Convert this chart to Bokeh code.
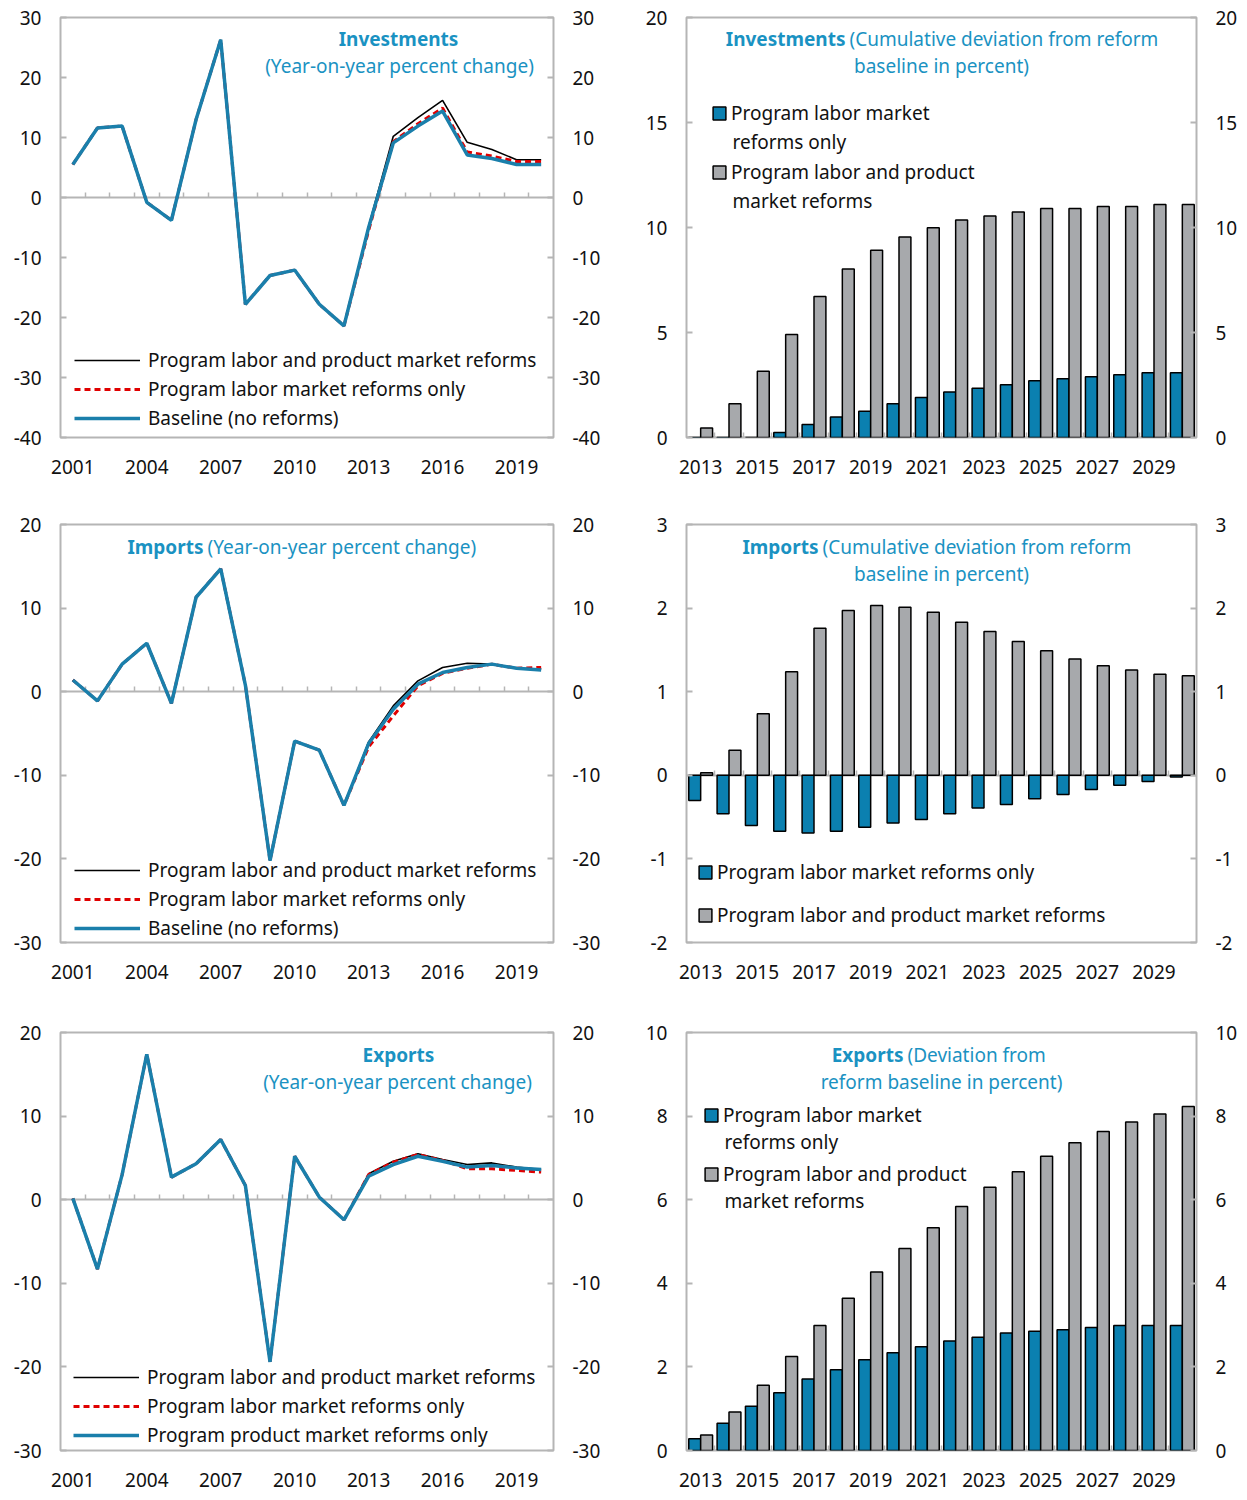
from bokeh.plotting import figure
from bokeh.models import (Range1d, FixedTicker, LinearAxis, Legend, LegendItem,
                          Label, ColumnDataSource, CustomJSTickFormatter)
from bokeh.layouts import row, column
from bokeh.transform import dodge
from bokeh.embed import file_html
from bokeh.resources import INLINE

# ---------------- data ----------------
years_line = list(range(2001, 2021))
years_bar = list(range(2013, 2031))
line_labels = [2001, 2004, 2007, 2010, 2013, 2016, 2019]
bar_labels = [2013, 2015, 2017, 2019, 2021, 2023, 2025, 2027, 2029]

inv_both = [5.5, 11.6, 11.9, -0.8, -3.8, 13.0, 26.3, -17.8, -13.0, -12.1, -17.8, -21.4, -4.8, 10.2, 13.3, 16.2, 9.2, 8.0, 6.3, 6.3]
inv_labor = [5.5, 11.6, 11.9, -0.8, -3.8, 13.0, 26.3, -17.8, -13.0, -12.1, -17.8, -21.4, -5.5, 9.3, 12.3, 14.9, 7.6, 6.9, 6.0, 6.0]
inv_base = [5.5, 11.6, 11.9, -0.8, -3.8, 13.0, 26.3, -17.8, -13.0, -12.1, -17.8, -21.4, -5.0, 9.1, 11.9, 14.4, 7.1, 6.5, 5.5, 5.5]

imp_both = [1.4, -1.1, 3.3, 5.8, -1.4, 11.3, 14.7, 0.8, -20.2, -5.9, -7.0, -13.6, -6.0, -1.7, 1.3, 2.9, 3.4, 3.3, 2.8, 2.7]
imp_labor = [1.4, -1.1, 3.3, 5.8, -1.4, 11.3, 14.7, 0.8, -20.2, -5.9, -7.0, -13.6, -6.6, -2.9, 0.7, 2.2, 2.8, 3.3, 2.8, 2.9]
imp_base = [1.4, -1.1, 3.3, 5.8, -1.4, 11.3, 14.7, 0.8, -20.2, -5.9, -7.0, -13.6, -6.2, -2.1, 0.9, 2.3, 2.9, 3.3, 2.8, 2.6]

exp_both = [0.15, -8.3, 3.0, 17.4, 2.7, 4.3, 7.2, 1.7, -19.4, 5.2, 0.3, -2.4, 3.1, 4.6, 5.5, 4.8, 4.2, 4.4, 3.9, 3.6]
exp_labor = [0.15, -8.3, 3.0, 17.4, 2.7, 4.3, 7.2, 1.7, -19.4, 5.2, 0.3, -2.4, 3.0, 4.5, 5.4, 4.7, 3.7, 3.7, 3.5, 3.3]
exp_product = [0.15, -8.3, 3.0, 17.4, 2.7, 4.3, 7.2, 1.7, -19.4, 5.2, 0.3, -2.4, 2.8, 4.2, 5.2, 4.6, 3.9, 4.1, 3.8, 3.6]

inv_cum_labor = [-0.05, -0.05, 0.0, 0.24, 0.62, 0.98, 1.25, 1.61, 1.90, 2.17, 2.34, 2.51, 2.70, 2.80, 2.89, 2.99, 3.08, 3.08]
inv_cum_both = [0.45, 1.61, 3.16, 4.90, 6.72, 8.02, 8.92, 9.55, 9.99, 10.36, 10.55, 10.74, 10.91, 10.91, 11.0, 11.0, 11.1, 11.1]

imp_cum_labor = [-0.30, -0.46, -0.60, -0.67, -0.69, -0.67, -0.62, -0.57, -0.53, -0.46, -0.39, -0.35, -0.28, -0.23, -0.17, -0.12, -0.075, -0.02]
imp_cum_both = [0.03, 0.30, 0.735, 1.24, 1.76, 1.97, 2.03, 2.01, 1.95, 1.83, 1.72, 1.60, 1.49, 1.39, 1.31, 1.26, 1.21, 1.19]

exp_dev_labor = [0.28, 0.65, 1.06, 1.38, 1.71, 1.93, 2.17, 2.34, 2.48, 2.62, 2.71, 2.81, 2.85, 2.89, 2.94, 2.99, 2.99, 2.99]
exp_dev_both = [0.37, 0.92, 1.56, 2.25, 2.99, 3.64, 4.27, 4.83, 5.33, 5.84, 6.30, 6.67, 7.04, 7.36, 7.63, 7.86, 8.05, 8.23]

LBL_BOTH = "Program labor and product market reforms"
LBL_LABOR = "Program labor market reforms only"
LBL_BASE = "Baseline (no reforms)"
LBL_PRODUCT = "Program product market reforms only"

# ---------------- style ----------------
FONT = "Noto Sans"
FS = "19px"
TXT = "#111111"
FRAME = "#b5b5b5"
BLUE_LINE = "#1a7fab"
RED = "#e00000"
BAR_BLUE = "#0b80b0"
BAR_GRAY = "#a7a9ac"
TITLE = "#1a92c2"


def style_axis(ax, ticker, standoff):
    ax.ticker = ticker
    ax.formatter = CustomJSTickFormatter(code="return tick.toString()")
    ax.major_tick_in = 6
    ax.major_tick_out = 0
    ax.minor_tick_line_color = None
    ax.major_tick_line_color = FRAME
    ax.major_tick_line_width = 2
    ax.axis_line_color = None
    ax.major_label_standoff = standoff
    ax.major_label_text_font = FONT
    ax.major_label_text_font_size = FS
    ax.major_label_text_color = TXT


def make_fig(years, ylo, yhi, ystep, label_years, fw, fh, bl, br, bt, bb):
    p = figure(frame_width=fw, frame_height=fh,
               min_border_left=bl, min_border_right=br,
               min_border_top=bt, min_border_bottom=bb,
               x_range=Range1d(years[0] - 0.5, years[-1] + 0.5),
               y_range=Range1d(ylo, yhi),
               output_backend="svg", toolbar_location=None)
    p.grid.visible = False
    p.outline_line_color = FRAME
    p.outline_line_width = 2
    yt = FixedTicker(ticks=list(range(ylo, yhi + 1, ystep)), minor_ticks=[])
    style_axis(p.yaxis[0], yt, 19)
    rax = LinearAxis()
    style_axis(rax, yt, 19)
    p.add_layout(rax, "right")
    xa = p.xaxis[0]
    xa.ticker = FixedTicker(ticks=label_years, minor_ticks=[])
    xa.major_tick_line_color = None
    xa.minor_tick_line_color = None
    xa.axis_line_color = None
    xa.major_label_standoff = 16
    xa.major_label_text_font = FONT
    xa.major_label_text_font_size = FS
    xa.major_label_text_color = TXT
    # zero line with small ticks at the category boundaries
    bounds = [y + 0.5 for y in years[:-1]]
    zax = LinearAxis(fixed_location=0,
                     ticker=FixedTicker(ticks=bounds, minor_ticks=[]),
                     formatter=CustomJSTickFormatter(code="return ''"),
                     major_tick_in=0, major_tick_out=5, major_label_standoff=0,
                     axis_line_color=FRAME, axis_line_width=2,
                     major_tick_line_color=FRAME, major_tick_line_width=1.5,
                     minor_tick_line_color=None, level="underlay")
    p.add_layout(zax, "above")
    return p


def title(p, parts, fh):
    # parts: (text, x from frame left, y from frame top, align, bold)
    for text, x, y, align, bold in parts:
        p.add_layout(Label(x=x, y=fh - y, x_units="screen", y_units="screen",
                           text=text, text_align=align, text_baseline="middle",
                           text_font=FONT, text_font_size=FS, text_color=TITLE,
                           text_font_style="bold" if bold else "normal"))


def line_panel(years, ylo, yhi, series, labels, bl, br, bt, bb, fh, legend_xy):
    fw = 493
    p = make_fig(years, ylo, yhi, 10, line_labels, fw, fh, bl, br, bt, bb)
    src = ColumnDataSource(dict(year=years, a=series[0], b=series[1], c=series[2]))
    r1 = p.line("year", "a", source=src, line_color="black", line_width=1.6)
    r2 = p.line("year", "b", source=src, line_color=RED, line_width=3, line_dash="6 4")
    r3 = p.line("year", "c", source=src, line_color=BLUE_LINE, line_width=3.5)
    leg = Legend(items=[LegendItem(label=labels[0], renderers=[r1]),
                        LegendItem(label=labels[1], renderers=[r2]),
                        LegendItem(label=labels[2], renderers=[r3])],
                 location=legend_xy, border_line_color=None, background_fill_alpha=0,
                 glyph_width=66, glyph_height=26, label_height=26, spacing=3,
                 padding=0, margin=0, label_standoff=8,
                 label_text_font=FONT, label_text_font_size=FS, label_text_color=TXT)
    p.add_layout(leg)
    return p


def bar_panel(ylo, yhi, ystep, labor, both, bt, bb, fh):
    fw = 510
    p = make_fig(years_bar, ylo, yhi, ystep, bar_labels, fw, fh, 66, 42, bt, bb)
    src = ColumnDataSource(dict(year=years_bar, labor=labor, both=both))
    r1 = p.vbar(x=dodge("year", -0.21), top="labor", bottom=0, width=0.42, source=src,
                fill_color=BAR_BLUE, line_color="black", line_width=1.5)
    r2 = p.vbar(x=dodge("year", 0.21), top="both", bottom=0, width=0.42, source=src,
                fill_color=BAR_GRAY, line_color="black", line_width=1.5)
    return p, r1, r2


def bar_legend(p, items, legend_xy, spacing):
    leg = Legend(items=[LegendItem(label=t, renderers=[r]) for t, r in items],
                 location=legend_xy, border_line_color=None, background_fill_alpha=0,
                 glyph_width=16, glyph_height=16, label_height=26, spacing=spacing,
                 padding=0, margin=0, label_standoff=4,
                 label_text_font=FONT, label_text_font_size=FS, label_text_color=TXT)
    p.add_layout(leg)


def extra_text(p, text, x, y, fh):
    p.add_layout(Label(x=x, y=fh - y, x_units="screen", y_units="screen", text=text,
                       text_align="left", text_baseline="middle", text_font=FONT,
                       text_font_size=FS, text_color=TXT))


FH1, FH2, FH3 = 420, 418, 418
LB = 60

# ---------------- row 1 ----------------
p1 = line_panel(years_line, -40, 30, [inv_both, inv_labor, inv_base],
                [LBL_BOTH, LBL_LABOR, LBL_BASE], LB, 67, 17, 50, FH1, (14, 6))
title(p1, [("Investments", 338, 21, "center", True),
           ("(Year-on-year percent change)", 339, 48, "center", False)], FH1)

p2, b1, b2 = bar_panel(0, 20, 5, inv_cum_labor, inv_cum_both, 17, 50, FH1)
bar_legend(p2, [("Program labor market", b1), ("Program labor and product", b2)], (25, 252), 33)
extra_text(p2, "reforms only", 46, 124, FH1)
extra_text(p2, "market reforms", 46, 183, FH1)
title(p2, [("Investments", 159, 21, "right", True),
           ("(Cumulative deviation from reform", 163, 21, "left", False),
           ("baseline in percent)", 255, 48, "center", False)], FH1)

# ---------------- row 2 ----------------
p3 = line_panel(years_line, -30, 20, [imp_both, imp_labor, imp_base],
                [LBL_BOTH, LBL_LABOR, LBL_BASE], LB, 67, 37, 50, FH2, (14, 1))
title(p3, [("Imports", 143, 22, "right", True),
           ("(Year-on-year percent change)", 147, 22, "left", False)], FH2)

p4, c1, c2 = bar_panel(-2, 3, 1, imp_cum_labor, imp_cum_both, 37, 50, FH2)
bar_legend(p4, [(LBL_LABOR, c1), (LBL_BOTH, c2)], (11, 14), 17)
title(p4, [("Imports", 132, 22, "right", True),
           ("(Cumulative deviation from reform", 136, 22, "left", False),
           ("baseline in percent)", 255, 49, "center", False)], FH2)

# ---------------- row 3 ----------------
p5 = line_panel(years_line, -30, 20, [exp_both, exp_labor, exp_product],
                [LBL_BOTH, LBL_LABOR, LBL_PRODUCT], LB, 67, 40, 42, FH3, (13, 2))
title(p5, [("Exports", 338, 22, "center", True),
           ("(Year-on-year percent change)", 337, 49, "center", False)], FH3)

p6, d1, d2 = bar_panel(0, 10, 2, exp_dev_labor, exp_dev_both, 40, 42, FH3)
bar_legend(p6, [("Program labor market", d1), ("Program labor and product", d2)], (17, 263), 33)
extra_text(p6, "reforms only", 38, 109, FH3)
extra_text(p6, "market reforms", 38, 168, FH3)
title(p6, [("Exports", 217, 22, "right", True),
           ("(Deviation from", 221, 22, "left", False),
           ("reform baseline in percent)", 255, 49, "center", False)], FH3)

layout = column(row(p1, p2, spacing=0), row(p3, p4, spacing=0), row(p5, p6, spacing=0), spacing=0)

open("out.html", "w").write(file_html(layout, INLINE))
